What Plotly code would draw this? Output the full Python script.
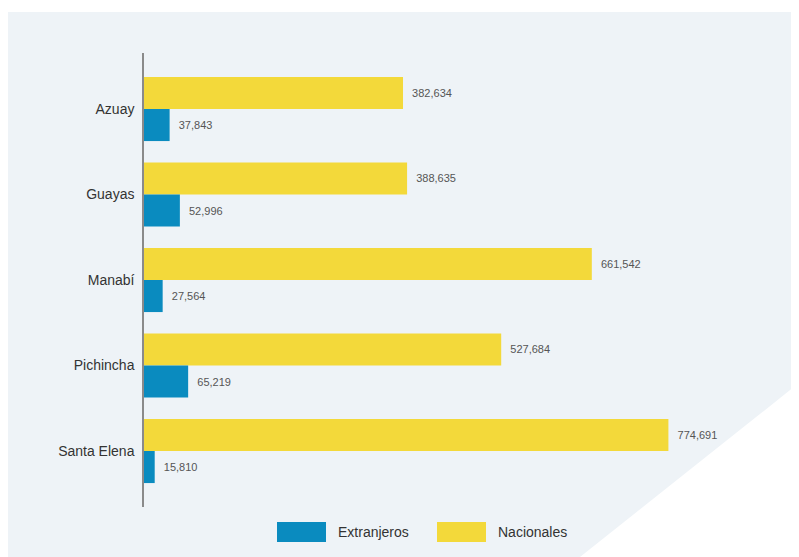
import plotly.graph_objects as go

provincias = ['Azuay', 'Guayas', 'Manabí', 'Pichincha', 'Santa Elena']
nacionales = [382634, 388635, 661542, 527684, 774691]
extranjeros = [37843, 52996, 27564, 65219, 15810]
series_names = ['Extranjeros', 'Nacionales']
series_colors = ['#0a8bbf', '#f3d93a']

# the page puts the figure 8px in from the top-left corner
OFF = 8
W, H = 799 - OFF, 557 - OFF
L, R, T, B = 144 - OFF, 760 - OFF, 53 - OFF, 507 - OFF   # plot area in figure pixels


def px(x, y):
    """page pixel -> paper coordinates"""
    return (x - OFF - L) / (R - L), (B - (y - OFF)) / (B - T)


def labels(vals):
    return ['\u00a0\u00a0' + f'{v:,}' for v in vals]


fig = go.Figure()
fig.add_trace(go.Bar(
    y=provincias, x=nacionales, name=series_names[1], orientation='h',
    marker=dict(color=series_colors[1], line=dict(width=0)),
    text=labels(nacionales), textposition='outside',
    textfont=dict(size=11, color='#555555'), cliponaxis=False, showlegend=False))
fig.add_trace(go.Bar(
    y=provincias, x=extranjeros, name=series_names[0], orientation='h',
    marker=dict(color=series_colors[0], line=dict(width=0)),
    text=labels(extranjeros), textposition='outside',
    textfont=dict(size=11, color='#555555'), cliponaxis=False, showlegend=False))

# background panel with the white cut corner
shapes = []
x0, y0 = px(OFF, 12)
x1, y1 = px(799, 557)
shapes.append(dict(type='rect', xref='paper', yref='paper', x0=x0, y0=y0, x1=x1, y1=y1,
                   fillcolor='#eef3f7', line=dict(width=0), layer='below'))
a, b, c = px(799, 383), px(580, 557), px(799, 557)
shapes.append(dict(type='path', xref='paper', yref='paper',
                   path=f'M {a[0]} {a[1]} L {b[0]} {b[1]} L {c[0]} {c[1]} Z',
                   fillcolor='white', line=dict(width=0), layer='below'))

# legend drawn by hand (big swatches)
annotations = []
for (sx, tx), name, col in zip([(277, 336), (437, 496)], series_names, series_colors):
    s0 = px(sx, 522)
    s1 = px(sx + 49, 542)
    shapes.append(dict(type='rect', xref='paper', yref='paper', x0=s0[0], y0=s0[1],
                       x1=s1[0], y1=s1[1], fillcolor=col, line=dict(width=0)))
    t = px(tx, 532)
    annotations.append(dict(xref='paper', yref='paper', x=t[0], y=t[1], text=name,
                            showarrow=False, xanchor='left', yanchor='middle',
                            font=dict(size=14, color='#333333')))

fig.update_layout(
    width=W, height=H,
    margin=dict(l=L, r=W - R, t=T, b=H - B),
    paper_bgcolor='white', plot_bgcolor='rgba(0,0,0,0)',
    font=dict(family='Liberation Sans, Arial, sans-serif'),
    barmode='group', bargap=0.25, bargroupgap=0,
    showlegend=False,
    shapes=shapes, annotations=annotations,
    xaxis=dict(range=[0, 910000], showgrid=False, zeroline=False, showticklabels=False,
               ticks=''),
    yaxis=dict(range=[4.655, -0.655], showgrid=False, zeroline=False,
               showline=True, linecolor='#8a8a8a', linewidth=1.5,
               ticks='', ticklabelstandoff=5,
               tickfont=dict(size=14, color='#333333')),
)

fig.write_html('out.html')
